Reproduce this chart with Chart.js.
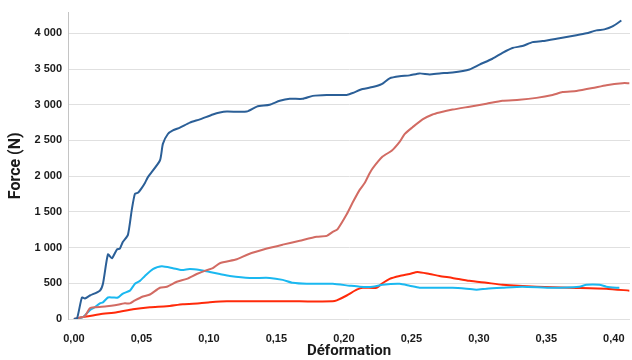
<!DOCTYPE html>
<html>
<head>
<meta charset="utf-8">
<script src="https://cdn.jsdelivr.net/npm/chart.js@4/dist/chart.umd.min.js"></script>
<style>
  html, body { margin: 0; padding: 0; background: #fff; }
  #wrap { width: 632px; height: 360px; }
</style>
</head>
<body>
<div id="wrap"><canvas id="chart"></canvas></div>
<script>
// strain (x) / force in N (y) for each specimen
const blueX = [0, 0.0022, 0.0059, 0.0081, 0.0118, 0.0192, 0.0215, 0.0252, 0.0281, 0.0318, 0.034, 0.0363, 0.04, 0.0429, 0.0452, 0.0474, 0.0503, 0.0526, 0.0548, 0.0637, 0.0659, 0.0696, 0.0733, 0.0785, 0.0859, 0.0933, 0.1029, 0.1081, 0.1133, 0.128, 0.1355, 0.145, 0.1525, 0.1599, 0.1695, 0.1769, 0.1873, 0.2021, 0.2065, 0.2139, 0.2213, 0.228, 0.2339, 0.2413, 0.2487, 0.2561, 0.2635, 0.2709, 0.2805, 0.2931, 0.3005, 0.3101, 0.3175, 0.3249, 0.3323, 0.3398, 0.3471, 0.3597, 0.3723, 0.3797, 0.3871, 0.393, 0.399, 0.4056];
const blueY = [0, 0, 301, 288, 329, 397, 493, 904, 849, 973, 986, 1082, 1178, 1534, 1754, 1767, 1836, 1904, 1986, 2219, 2452, 2590, 2640, 2680, 2750, 2795, 2863, 2891, 2904, 2904, 2973, 3000, 3055, 3083, 3083, 3124, 3137, 3137, 3165, 3220, 3247, 3288, 3370, 3398, 3411, 3439, 3425, 3439, 3452, 3494, 3562, 3644, 3726, 3795, 3822, 3877, 3891, 3932, 3973, 4000, 4041, 4055, 4096, 4179];

const roseX = [0, 0.0081, 0.0118, 0.0155, 0.0244, 0.0303, 0.0377, 0.0415, 0.0452, 0.0511, 0.0563, 0.0637, 0.0688, 0.0762, 0.0836, 0.091, 0.0984, 0.1029, 0.1081, 0.1207, 0.1288, 0.1429, 0.1547, 0.1673, 0.1799, 0.1873, 0.1917, 0.1954, 0.2021, 0.2065, 0.2117, 0.2154, 0.2191, 0.2213, 0.2287, 0.2354, 0.2413, 0.245, 0.2509, 0.2583, 0.2657, 0.2709, 0.2805, 0.2931, 0.3057, 0.3175, 0.3301, 0.3427, 0.3546, 0.362, 0.3723, 0.3842, 0.3945, 0.4064, 0.4115];
const roseY = [0, 41, 151, 164, 178, 192, 219, 219, 260, 315, 343, 438, 452, 521, 562, 630, 685, 712, 781, 836, 904, 986, 1041, 1096, 1151, 1164, 1219, 1260, 1466, 1630, 1808, 1904, 2041, 2110, 2274, 2356, 2480, 2589, 2685, 2795, 2863, 2891, 2932, 2973, 3014, 3055, 3069, 3096, 3137, 3178, 3192, 3233, 3274, 3302, 3302];

const cyanX = [0, 0.0067, 0.0118, 0.0155, 0.0192, 0.0215, 0.0252, 0.0289, 0.0326, 0.0363, 0.0415, 0.0452, 0.0489, 0.0526, 0.0585, 0.0651, 0.0733, 0.0799, 0.0859, 0.0933, 0.1007, 0.1081, 0.1155, 0.1303, 0.1451, 0.1547, 0.1621, 0.1725, 0.1917, 0.2043, 0.2117, 0.2213, 0.2287, 0.2413, 0.2487, 0.2561, 0.2657, 0.2805, 0.2909, 0.2983, 0.3057, 0.3175, 0.3323, 0.3546, 0.3745, 0.3797, 0.3893, 0.3945, 0.4019, 0.4041];
const cyanY = [0, 27, 123, 164, 219, 233, 301, 301, 301, 356, 397, 493, 534, 603, 699, 740, 712, 685, 699, 685, 658, 630, 603, 575, 575, 548, 507, 493, 493, 466, 452, 452, 480, 493, 466, 438, 438, 438, 425, 411, 425, 438, 452, 438, 452, 480, 480, 452, 438, 438];

const redX = [0, 0.0067, 0.0192, 0.0318, 0.0437, 0.0563, 0.0688, 0.0807, 0.0933, 0.1007, 0.1133, 0.1429, 0.1673, 0.1917, 0.1947, 0.2021, 0.2095, 0.2139, 0.2243, 0.228, 0.2339, 0.2413, 0.2487, 0.2546, 0.2635, 0.2709, 0.2805, 0.2931, 0.3057, 0.3175, 0.3427, 0.3671, 0.3945, 0.4115];
const redY = [0, 27, 68, 96, 137, 164, 178, 206, 219, 233, 247, 247, 247, 247, 260, 329, 411, 438, 438, 493, 562, 603, 630, 658, 630, 603, 575, 534, 507, 480, 452, 438, 425, 397];

const xTicks = [0, 0.05, 0.1, 0.15, 0.2, 0.25, 0.3, 0.35, 0.4];
const yTicks = [0, 500, 1000, 1500, 2000, 2500, 3000, 3500, 4000];

const pts = (xs, ys) => xs.map((x, i) => ({ x: x, y: ys[i] }));

const line = (label, xs, ys, color) => ({
  label: label,
  data: pts(xs, ys),
  borderColor: color,
  backgroundColor: color,
  borderWidth: 2,
  pointRadius: 0,
  showLine: true,
  tension: 0.2,
});

const TICK_FONT = "'Liberation Sans', Arial, sans-serif";
const TITLE_FONT = "Roboto, 'Liberation Sans', sans-serif";

new Chart(document.getElementById("chart"), {
  type: "scatter",
  data: {
    datasets: [
      line("Bleu", blueX, blueY, "#2b5f97"),
      line("Rose", roseX, roseY, "#d26b63"),
      line("Cyan", cyanX, cyanY, "#1ab8f0"),
      line("Rouge", redX, redY, "#ff2a0a"),
    ],
  },
  options: {
    responsive: true,
    maintainAspectRatio: false,
    animation: false,
    layout: { padding: { top: 6, right: 2, left: 0, bottom: 0 } },
    plugins: {
      legend: { display: false },
      tooltip: { enabled: false },
    },
    scales: {
      x: {
        type: "linear",
        min: -0.0044,
        max: 0.412,
        afterBuildTicks: (s) => { s.ticks = xTicks.map((v) => ({ value: v })); },
        afterFit: (s) => { s.height = 41; },
        grid: { display: false },
        border: { display: false },
        ticks: {
          padding: 5,
          color: "#1a1a1a",
          font: { family: TICK_FONT, size: 11, weight: "bold" },
          callback: (v) => v.toFixed(2).replace(".", ","),
        },
        title: {
          display: true,
          text: "Déformation",
          color: "#1a1a1a",
          padding: { top: 0, bottom: 0 },
          font: { family: TITLE_FONT, size: 15, weight: "bold", lineHeight: 1.2 },
        },
      },
      y: {
        min: 0,
        max: 4290,
        afterBuildTicks: (s) => { s.ticks = yTicks.map((v) => ({ value: v })); },
        afterFit: (s) => { s.width = 68; },
        grid: { color: "#e0e0e0", drawTicks: false, lineWidth: 1 },
        border: { display: true, color: "#c4c4c4" },
        ticks: {
          padding: 6,
          color: "#1a1a1a",
          font: { family: TICK_FONT, size: 11, weight: "bold" },
          callback: (v) => String(v).replace(/\B(?=(\d{3})+(?!\d))/g, " "),
        },
        title: {
          display: true,
          text: "Force (N)",
          color: "#1a1a1a",
          padding: { top: 6, bottom: 0 },
          font: { family: TITLE_FONT, size: 16, weight: "bold", lineHeight: 1.2 },
        },
      },
    },
  },
});
</script>
</body>
</html>
